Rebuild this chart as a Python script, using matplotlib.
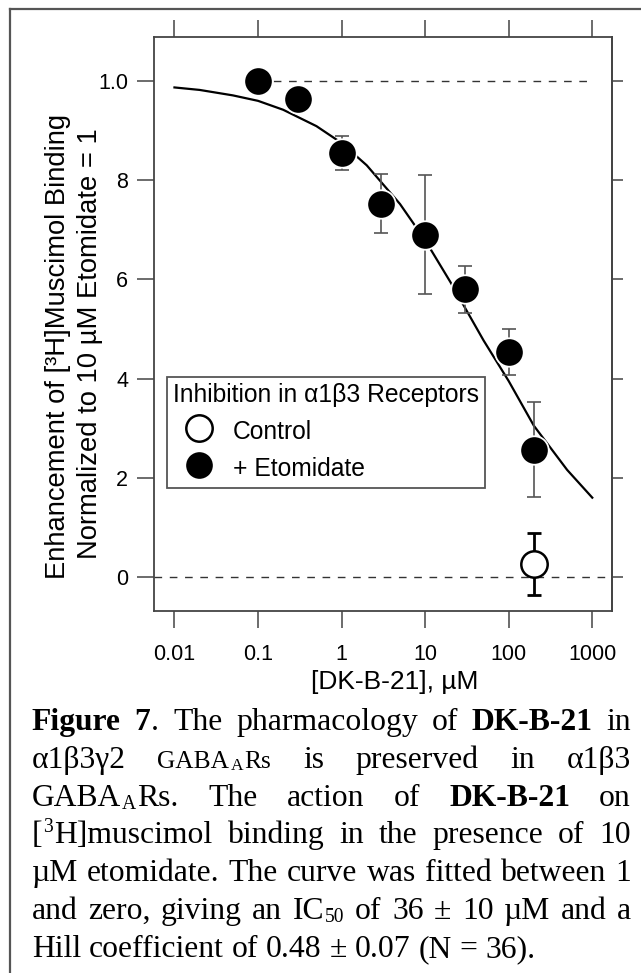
import numpy as np
import matplotlib
matplotlib.use('Agg')
import matplotlib.pyplot as plt
from matplotlib.lines import Line2D
from matplotlib.ticker import NullLocator, FixedLocator
from matplotlib.transforms import IdentityTransform

# ---------------- data ----------------
conc_etom = [0.1, 0.3, 1, 3, 10, 30, 100, 200]
resp_etom = [1.0, 0.964, 0.855, 0.753, 0.690, 0.580, 0.454, 0.257]
err_etom = [0.0, 0.015, 0.035, 0.059, 0.120, 0.047, 0.047, 0.095]

conc_ctrl = [200]
resp_ctrl = [0.026]
err_ctrl = [0.062]

# fitted curve as drawn in the figure
curve_conc = [0.01, 0.02, 0.05, 0.1, 0.2, 0.5, 1, 2, 5, 10, 20, 50, 100, 200, 500, 1000]
curve_resp = [0.987, 0.982, 0.971, 0.960, 0.942, 0.909, 0.875, 0.830, 0.752, 0.679,
              0.595, 0.477, 0.395, 0.305, 0.216, 0.160]

ref_levels = [1.0, 0.0]

xticks = [0.01, 0.1, 1, 10, 100, 1000]
xtick_labels = ['0.01', '0.1', '1', '10', '100', '1000']
yticks = [0, 0.2, 0.4, 0.6, 0.8, 1.0]
ytick_labels = ['0', '2', '4', '6', '8', '1.0']

legend_title = 'Inhibition in α1β3 Receptors'
legend_labels = ['Control', '+ Etomidate']
xlabel = '[DK-B-21], µM'
ylabel_lines = ['Enhancement of [³H]Muscimol Binding',
                'Normalized to 10 µM Etomidate = 1']

caption_lines = [
    [[('Figure', 'b')], [('7', 'b'), ('.', 'r')], 'The', 'pharmacology', 'of', [('DK-B-21', 'b')], 'in'],
    ['α1β3γ2', [('GABA', 'sc'), ('A', 'scsub'), ('Rs', 'sc')], 'is', 'preserved', 'in', 'α1β3'],
    [[('GABA', 'r'), ('A', 'sub'), ('Rs.', 'r')], 'The', 'action', 'of', [('DK-B-21', 'b')], 'on'],
    [[('[', 'r'), ('3', 'sup'), ('H]muscimol', 'r')], 'binding', 'in', 'the', 'presence', 'of', '10'],
    ['µM', 'etomidate.', 'The', 'curve', 'was', 'fitted', 'between', '1'],
    ['and', 'zero,', 'giving', 'an', [('IC', 'r'), ('50', 'sub')], 'of', '36', '±', '10', 'µM', 'and', 'a'],
    ['Hill', 'coefficient', 'of', '0.48', '±', '0.07', '(N', '=', '36).'],
]

# ---------------- figure ----------------
W, H = 641, 973
plt.rcParams['font.family'] = ['Liberation Sans', 'DejaVu Sans']
fig = plt.figure(figsize=(W / 100, H / 100), dpi=100)
fig.patch.set_facecolor('white')

ax_l, ax_r, ax_t, ax_b = 154, 612, 37, 611
ax = fig.add_axes([ax_l / W, 1 - ax_b / H, (ax_r - ax_l) / W, (ax_b - ax_t) / H])

spine_c = '#444444'
ax.set_xscale('log')
ax.set_xlim(0.00569, 1722)
ax.set_ylim(-0.0685, 1.0887)

# reference dashed lines
ax.plot([0.1, 1000], [ref_levels[0]] * 2, color='#333333', lw=1.0,
        dashes=(5.5, 5.5), zorder=1)
ax.axhline(ref_levels[1], color='#333333', lw=1.0, dashes=(5.5, 5.5), zorder=1)

# curve
ax.plot(curve_conc, curve_resp, color='black', lw=1.6, zorder=2,
        solid_joinstyle='round')

# error bars
ax.errorbar(conc_etom, resp_etom, yerr=err_etom, fmt='none', ecolor='#555555',
            elinewidth=1.2, capsize=5, capthick=1.2, zorder=2.5)
ax.errorbar(conc_ctrl, resp_ctrl, yerr=err_ctrl, fmt='none', ecolor='black',
            elinewidth=2.0, capsize=5, capthick=2.0, zorder=2.5)

# markers
h_etom, = ax.plot(conc_etom, resp_etom, 'o', ms=20.5, mfc='black', mec='white',
                  mew=1.3, zorder=3)
h_ctrl, = ax.plot(conc_ctrl, resp_ctrl, 'o', ms=19, mfc='white', mec='black',
                  mew=1.8, zorder=3)

# ticks
ax.xaxis.set_major_locator(FixedLocator(xticks))
ax.set_xticklabels(xtick_labels)
ax.xaxis.set_minor_locator(NullLocator())
ax.set_yticks(yticks)
ax.set_yticklabels(ytick_labels)
ax.tick_params(axis='x', direction='out', length=12.5, width=1.1, color=spine_c,
               top=True, labelsize=15.5, pad=11)
ax.tick_params(axis='y', direction='out', length=12, width=1.1, color=spine_c,
               right=False, labelsize=15.5, pad=6.5)
sec = ax.secondary_yaxis('right')
sec.set_yticks(yticks)
sec.tick_params(direction='out', length=8, width=1.1, color=spine_c, labelright=False)
sec.spines['right'].set_linewidth(1.3)
sec.spines['right'].set_color(spine_c)
for s in ax.spines.values():
    s.set_linewidth(1.3)
    s.set_color(spine_c)

# legend
leg = ax.legend(handles=[h_ctrl, h_etom], labels=legend_labels, title=legend_title,
                loc='upper left', bbox_to_anchor=((167 - ax_l) / (ax_r - ax_l),
                                                  (ax_b - 377) / (ax_b - ax_t)),
                borderaxespad=0, fontsize=17.7, title_fontsize=17.7, alignment='left',
                frameon=True, fancybox=False, edgecolor='#555555', framealpha=1,
                borderpad=0.25, handletextpad=0.32, labelspacing=0.42,
                handlelength=2.1, handleheight=1.3)
leg.get_frame().set_linewidth(1.3)

# axis labels (positioned as in the reference)
T = IdentityTransform()
fig.text(395, H - 689, xlabel, fontsize=19, ha='center', va='baseline', transform=T)
fig.text(65, H - 346, ylabel_lines[0], fontsize=19.7, rotation=90, rotation_mode='anchor',
         ha='center', va='baseline', transform=T)
fig.text(97, H - 344, ylabel_lines[1], fontsize=19.7, rotation=90, rotation_mode='anchor',
         ha='center', va='baseline', transform=T)

# outer frame (left and top edges only are visible)
fig.add_artist(Line2D([10 / W, 10 / W], [0, 1 - 9 / H], transform=fig.transFigure,
                      color='#555555', lw=1.6))
fig.add_artist(Line2D([10 / W, 1], [1 - 9 / H, 1 - 9 / H], transform=fig.transFigure,
                      color='#555555', lw=1.6))

# ---------------- caption (justified) ----------------
renderer = fig.canvas.get_renderer()
S = 22.8
em = S * 100 / 72
styles = {
    'r': (1.0, 'normal', 0.0),
    'b': (1.0, 'bold', 0.0),
    'sub': (0.62, 'normal', -0.10),
    'sup': (0.62, 'normal', 0.36),
    'sc': (0.8, 'normal', 0.0),
    'scsub': (0.55, 'normal', -0.08),
}
serif = ['Liberation Serif', 'DejaVu Serif']


def make_seg(text, st):
    sc, wt, dy = styles[st]
    t = fig.text(0, 0, text, fontsize=S * sc, fontweight=wt, family=serif,
                 ha='left', va='baseline', transform=T)
    w = t.get_window_extent(renderer).width
    return t, w, dy * em


def width_of(text):
    t = fig.text(0, 0, text, fontsize=S, family=serif, transform=T)
    w = t.get_window_extent(renderer).width
    t.remove()
    return w


space_gap = width_of('H H') - 2 * width_of('H')
x0, x1 = 31.7, 631.0
base0, step = 730.0, 37.8
seg_pad = 1.2

for li, line in enumerate(caption_lines):
    words = []
    for wd in line:
        segs = [(wd, 'r')] if isinstance(wd, str) else wd
        parts = [make_seg(tx, st) for tx, st in segs]
        wsum = sum(p[1] for p in parts) + seg_pad * (len(parts) - 1)
        words.append((parts, wsum))
    total = sum(w for _, w in words)
    if li < len(caption_lines) - 1:
        gap = (x1 - x0 - total) / (len(words) - 1)
    else:
        gap = space_gap
    yb = H - (base0 + step * li)
    x = x0
    for parts, wsum in words:
        xx = x
        for t, w, dy in parts:
            t.set_position((xx, yb + dy))
            xx += w + seg_pad
        x += wsum + gap

fig.savefig('out.png', dpi=100, facecolor='white')
